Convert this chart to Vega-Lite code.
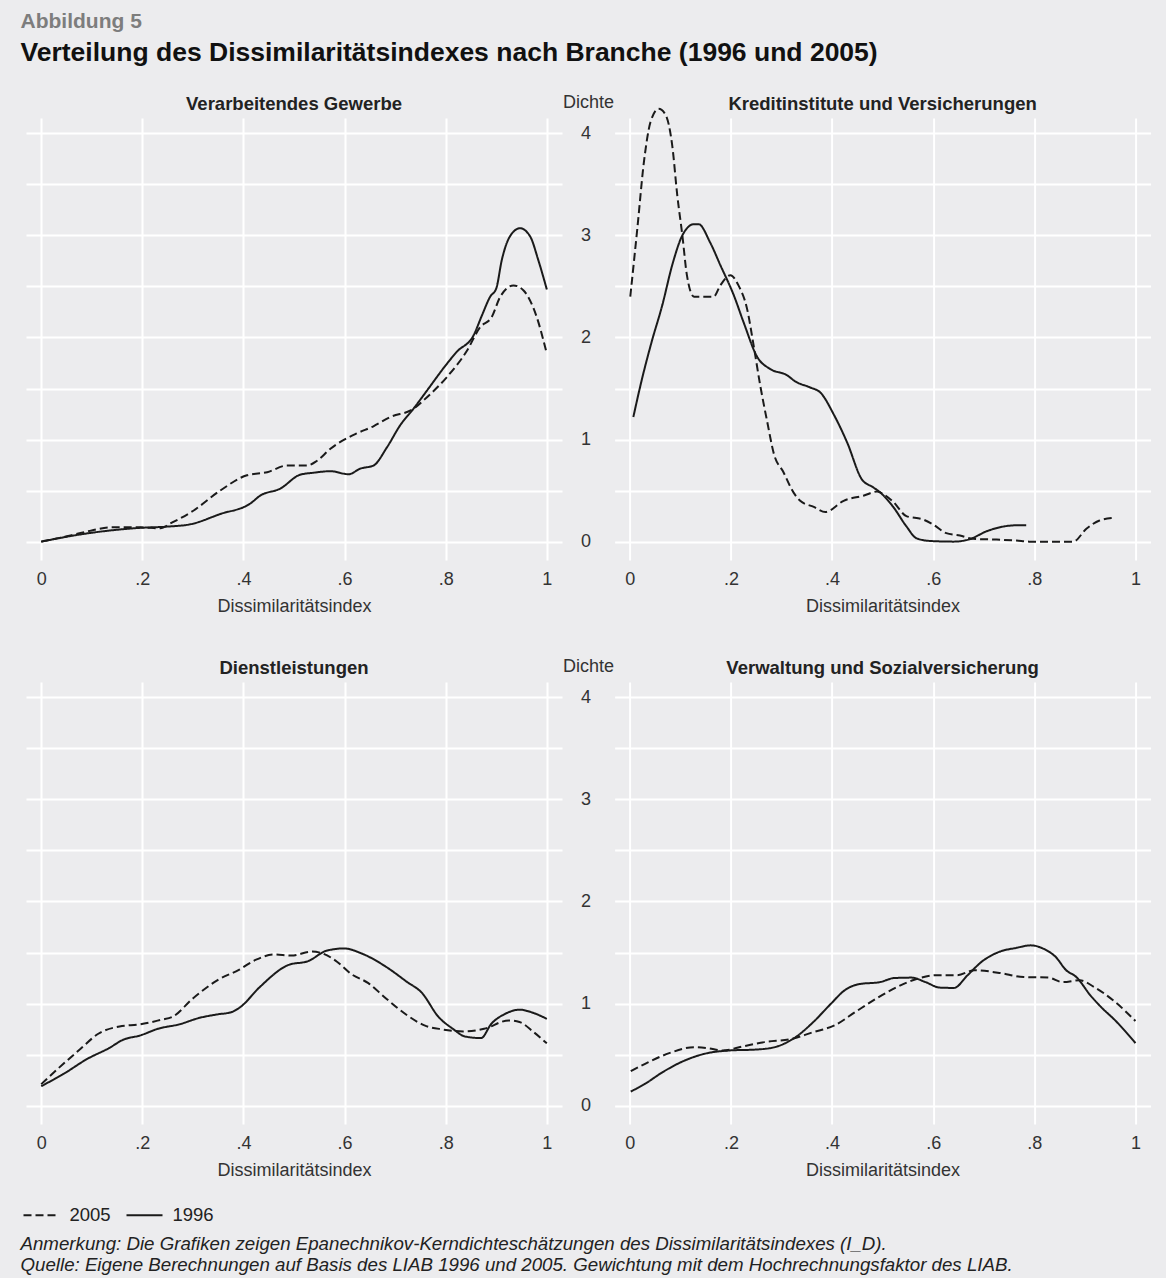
{
  "$schema": "https://vega.github.io/schema/vega-lite/v6.json",
  "background": "#ececee",
  "padding": {"left": 20, "top": 10, "right": 16, "bottom": 4.5},
  "title": {
    "text": "Abbildung 5",
    "subtitle": "Verteilung des Dissimilaritätsindexes nach Branche (1996 und 2005)",
    "anchor": "start",
    "frame": "group",
    "dx": -5.5,
    "font": "Liberation Sans",
    "fontSize": 21,
    "fontWeight": "bold",
    "color": "#7d7d7d",
    "subtitleFont": "Liberation Sans",
    "subtitleFontSize": 26.5,
    "subtitleFontWeight": "bold",
    "subtitleColor": "#111111",
    "subtitlePadding": 8,
    "offset": 27
  },
  "datasets": {
    "d": [
      {"p":"VG","j":"2005","x":0,"y":0},{"p":"VG","j":"2005","x":0.058,"y":0.06},{"p":"VG","j":"2005","x":0.1,"y":0.11},{"p":"VG","j":"2005","x":0.137,"y":0.14},{"p":"VG","j":"2005","x":0.196,"y":0.14},{"p":"VG","j":"2005","x":0.236,"y":0.13},{"p":"VG","j":"2005","x":0.255,"y":0.177},{"p":"VG","j":"2005","x":0.3,"y":0.3},{"p":"VG","j":"2005","x":0.354,"y":0.5},{"p":"VG","j":"2005","x":0.407,"y":0.65},{"p":"VG","j":"2005","x":0.447,"y":0.68},{"p":"VG","j":"2005","x":0.486,"y":0.745},{"p":"VG","j":"2005","x":0.525,"y":0.745},{"p":"VG","j":"2005","x":0.545,"y":0.79},{"p":"VG","j":"2005","x":0.572,"y":0.91},{"p":"VG","j":"2005","x":0.624,"y":1.06},{"p":"VG","j":"2005","x":0.657,"y":1.13},{"p":"VG","j":"2005","x":0.69,"y":1.22},{"p":"VG","j":"2005","x":0.736,"y":1.3},{"p":"VG","j":"2005","x":0.763,"y":1.415},{"p":"VG","j":"2005","x":0.802,"y":1.61},{"p":"VG","j":"2005","x":0.842,"y":1.87},{"p":"VG","j":"2005","x":0.868,"y":2.1},{"p":"VG","j":"2005","x":0.891,"y":2.2},{"p":"VG","j":"2005","x":0.908,"y":2.4},{"p":"VG","j":"2005","x":0.934,"y":2.51},{"p":"VG","j":"2005","x":0.954,"y":2.46},{"p":"VG","j":"2005","x":0.98,"y":2.2},{"p":"VG","j":"2005","x":1.0,"y":1.84},
      {"p":"VG","j":"1996","x":0,"y":0},{"p":"VG","j":"1996","x":0.09,"y":0.08},{"p":"VG","j":"1996","x":0.196,"y":0.135},{"p":"VG","j":"1996","x":0.249,"y":0.147},{"p":"VG","j":"1996","x":0.295,"y":0.17},{"p":"VG","j":"1996","x":0.354,"y":0.27},{"p":"VG","j":"1996","x":0.414,"y":0.375},{"p":"VG","j":"1996","x":0.433,"y":0.45},{"p":"VG","j":"1996","x":0.473,"y":0.52},{"p":"VG","j":"1996","x":0.512,"y":0.655},{"p":"VG","j":"1996","x":0.539,"y":0.675},{"p":"VG","j":"1996","x":0.572,"y":0.69},{"p":"VG","j":"1996","x":0.608,"y":0.66},{"p":"VG","j":"1996","x":0.631,"y":0.715},{"p":"VG","j":"1996","x":0.657,"y":0.745},{"p":"VG","j":"1996","x":0.684,"y":0.925},{"p":"VG","j":"1996","x":0.71,"y":1.14},{"p":"VG","j":"1996","x":0.736,"y":1.3},{"p":"VG","j":"1996","x":0.763,"y":1.48},{"p":"VG","j":"1996","x":0.802,"y":1.74},{"p":"VG","j":"1996","x":0.822,"y":1.86},{"p":"VG","j":"1996","x":0.855,"y":2.02},{"p":"VG","j":"1996","x":0.872,"y":2.22},{"p":"VG","j":"1996","x":0.888,"y":2.4},{"p":"VG","j":"1996","x":0.9,"y":2.48},{"p":"VG","j":"1996","x":0.911,"y":2.76},{"p":"VG","j":"1996","x":0.927,"y":2.99},{"p":"VG","j":"1996","x":0.947,"y":3.07},{"p":"VG","j":"1996","x":0.967,"y":2.99},{"p":"VG","j":"1996","x":0.983,"y":2.76},{"p":"VG","j":"1996","x":1.0,"y":2.47},
      {"p":"KV","j":"2005","x":0.001,"y":2.4},{"p":"KV","j":"2005","x":0.015,"y":3.07},{"p":"KV","j":"2005","x":0.028,"y":3.72},{"p":"KV","j":"2005","x":0.041,"y":4.11},{"p":"KV","j":"2005","x":0.057,"y":4.24},{"p":"KV","j":"2005","x":0.071,"y":4.18},{"p":"KV","j":"2005","x":0.084,"y":3.88},{"p":"KV","j":"2005","x":0.094,"y":3.39},{"p":"KV","j":"2005","x":0.104,"y":3.0},{"p":"KV","j":"2005","x":0.113,"y":2.61},{"p":"KV","j":"2005","x":0.127,"y":2.4},{"p":"KV","j":"2005","x":0.166,"y":2.4},{"p":"KV","j":"2005","x":0.179,"y":2.51},{"p":"KV","j":"2005","x":0.199,"y":2.61},{"p":"KV","j":"2005","x":0.215,"y":2.51},{"p":"KV","j":"2005","x":0.232,"y":2.28},{"p":"KV","j":"2005","x":0.245,"y":1.92},{"p":"KV","j":"2005","x":0.258,"y":1.53},{"p":"KV","j":"2005","x":0.272,"y":1.17},{"p":"KV","j":"2005","x":0.285,"y":0.86},{"p":"KV","j":"2005","x":0.304,"y":0.68},{"p":"KV","j":"2005","x":0.324,"y":0.48},{"p":"KV","j":"2005","x":0.337,"y":0.4},{"p":"KV","j":"2005","x":0.364,"y":0.34},{"p":"KV","j":"2005","x":0.387,"y":0.29},{"p":"KV","j":"2005","x":0.423,"y":0.4},{"p":"KV","j":"2005","x":0.462,"y":0.45},{"p":"KV","j":"2005","x":0.489,"y":0.49},{"p":"KV","j":"2005","x":0.503,"y":0.46},{"p":"KV","j":"2005","x":0.521,"y":0.39},{"p":"KV","j":"2005","x":0.547,"y":0.25},{"p":"KV","j":"2005","x":0.58,"y":0.217},{"p":"KV","j":"2005","x":0.6,"y":0.167},{"p":"KV","j":"2005","x":0.626,"y":0.083},{"p":"KV","j":"2005","x":0.653,"y":0.06},{"p":"KV","j":"2005","x":0.679,"y":0.027},{"p":"KV","j":"2005","x":0.725,"y":0.02},{"p":"KV","j":"2005","x":0.765,"y":0.01},{"p":"KV","j":"2005","x":0.79,"y":0},{"p":"KV","j":"2005","x":0.877,"y":0},{"p":"KV","j":"2005","x":0.903,"y":0.127},{"p":"KV","j":"2005","x":0.929,"y":0.207},{"p":"KV","j":"2005","x":0.956,"y":0.233},
      {"p":"KV","j":"1996","x":0.007,"y":1.22},{"p":"KV","j":"1996","x":0.024,"y":1.59},{"p":"KV","j":"1996","x":0.044,"y":1.97},{"p":"KV","j":"1996","x":0.064,"y":2.31},{"p":"KV","j":"1996","x":0.084,"y":2.71},{"p":"KV","j":"1996","x":0.104,"y":3.0},{"p":"KV","j":"1996","x":0.127,"y":3.11},{"p":"KV","j":"1996","x":0.136,"y":3.11},{"p":"KV","j":"1996","x":0.159,"y":2.93},{"p":"KV","j":"1996","x":0.179,"y":2.71},{"p":"KV","j":"1996","x":0.206,"y":2.41},{"p":"KV","j":"1996","x":0.225,"y":2.15},{"p":"KV","j":"1996","x":0.252,"y":1.81},{"p":"KV","j":"1996","x":0.278,"y":1.69},{"p":"KV","j":"1996","x":0.311,"y":1.63},{"p":"KV","j":"1996","x":0.327,"y":1.57},{"p":"KV","j":"1996","x":0.357,"y":1.51},{"p":"KV","j":"1996","x":0.377,"y":1.46},{"p":"KV","j":"1996","x":0.404,"y":1.24},{"p":"KV","j":"1996","x":0.43,"y":0.97},{"p":"KV","j":"1996","x":0.459,"y":0.61},{"p":"KV","j":"1996","x":0.482,"y":0.53},{"p":"KV","j":"1996","x":0.495,"y":0.483},{"p":"KV","j":"1996","x":0.521,"y":0.34},{"p":"KV","j":"1996","x":0.547,"y":0.15},{"p":"KV","j":"1996","x":0.567,"y":0.033},{"p":"KV","j":"1996","x":0.593,"y":0.007},{"p":"KV","j":"1996","x":0.64,"y":0},{"p":"KV","j":"1996","x":0.672,"y":0.023},{"p":"KV","j":"1996","x":0.705,"y":0.1},{"p":"KV","j":"1996","x":0.738,"y":0.147},{"p":"KV","j":"1996","x":0.765,"y":0.16},{"p":"KV","j":"1996","x":0.784,"y":0.16},
      {"p":"DL","j":"2005","x":0,"y":0.21},{"p":"DL","j":"2005","x":0.044,"y":0.41},{"p":"DL","j":"2005","x":0.078,"y":0.557},{"p":"DL","j":"2005","x":0.113,"y":0.704},{"p":"DL","j":"2005","x":0.155,"y":0.776},{"p":"DL","j":"2005","x":0.196,"y":0.796},{"p":"DL","j":"2005","x":0.238,"y":0.842},{"p":"DL","j":"2005","x":0.259,"y":0.868},{"p":"DL","j":"2005","x":0.3,"y":1.05},{"p":"DL","j":"2005","x":0.349,"y":1.23},{"p":"DL","j":"2005","x":0.391,"y":1.33},{"p":"DL","j":"2005","x":0.425,"y":1.43},{"p":"DL","j":"2005","x":0.46,"y":1.48},{"p":"DL","j":"2005","x":0.495,"y":1.47},{"p":"DL","j":"2005","x":0.536,"y":1.51},{"p":"DL","j":"2005","x":0.557,"y":1.49},{"p":"DL","j":"2005","x":0.585,"y":1.41},{"p":"DL","j":"2005","x":0.613,"y":1.29},{"p":"DL","j":"2005","x":0.647,"y":1.2},{"p":"DL","j":"2005","x":0.682,"y":1.05},{"p":"DL","j":"2005","x":0.724,"y":0.884},{"p":"DL","j":"2005","x":0.758,"y":0.786},{"p":"DL","j":"2005","x":0.793,"y":0.747},{"p":"DL","j":"2005","x":0.835,"y":0.727},{"p":"DL","j":"2005","x":0.876,"y":0.753},{"p":"DL","j":"2005","x":0.925,"y":0.835},{"p":"DL","j":"2005","x":0.946,"y":0.819},{"p":"DL","j":"2005","x":0.974,"y":0.72},{"p":"DL","j":"2005","x":1.0,"y":0.61},
      {"p":"DL","j":"1996","x":0,"y":0.19},{"p":"DL","j":"1996","x":0.044,"y":0.31},{"p":"DL","j":"1996","x":0.092,"y":0.46},{"p":"DL","j":"1996","x":0.134,"y":0.563},{"p":"DL","j":"1996","x":0.162,"y":0.645},{"p":"DL","j":"1996","x":0.196,"y":0.688},{"p":"DL","j":"1996","x":0.231,"y":0.753},{"p":"DL","j":"1996","x":0.273,"y":0.796},{"p":"DL","j":"1996","x":0.314,"y":0.861},{"p":"DL","j":"1996","x":0.349,"y":0.894},{"p":"DL","j":"1996","x":0.377,"y":0.917},{"p":"DL","j":"1996","x":0.394,"y":0.966},{"p":"DL","j":"1996","x":0.432,"y":1.16},{"p":"DL","j":"1996","x":0.488,"y":1.376},{"p":"DL","j":"1996","x":0.529,"y":1.418},{"p":"DL","j":"1996","x":0.564,"y":1.517},{"p":"DL","j":"1996","x":0.599,"y":1.54},{"p":"DL","j":"1996","x":0.634,"y":1.49},{"p":"DL","j":"1996","x":0.682,"y":1.36},{"p":"DL","j":"1996","x":0.724,"y":1.21},{"p":"DL","j":"1996","x":0.752,"y":1.11},{"p":"DL","j":"1996","x":0.786,"y":0.868},{"p":"DL","j":"1996","x":0.814,"y":0.753},{"p":"DL","j":"1996","x":0.838,"y":0.678},{"p":"DL","j":"1996","x":0.87,"y":0.662},{"p":"DL","j":"1996","x":0.89,"y":0.8},{"p":"DL","j":"1996","x":0.918,"y":0.9},{"p":"DL","j":"1996","x":0.946,"y":0.94},{"p":"DL","j":"1996","x":0.974,"y":0.907},{"p":"DL","j":"1996","x":1.0,"y":0.85},
      {"p":"VS","j":"2005","x":0.002,"y":0.337},{"p":"VS","j":"2005","x":0.037,"y":0.426},{"p":"VS","j":"2005","x":0.078,"y":0.514},{"p":"VS","j":"2005","x":0.127,"y":0.573},{"p":"VS","j":"2005","x":0.155,"y":0.563},{"p":"VS","j":"2005","x":0.183,"y":0.54},{"p":"VS","j":"2005","x":0.224,"y":0.58},{"p":"VS","j":"2005","x":0.266,"y":0.622},{"p":"VS","j":"2005","x":0.321,"y":0.655},{"p":"VS","j":"2005","x":0.363,"y":0.72},{"p":"VS","j":"2005","x":0.405,"y":0.786},{"p":"VS","j":"2005","x":0.446,"y":0.917},{"p":"VS","j":"2005","x":0.488,"y":1.05},{"p":"VS","j":"2005","x":0.529,"y":1.163},{"p":"VS","j":"2005","x":0.564,"y":1.235},{"p":"VS","j":"2005","x":0.606,"y":1.277},{"p":"VS","j":"2005","x":0.647,"y":1.277},{"p":"VS","j":"2005","x":0.682,"y":1.327},{"p":"VS","j":"2005","x":0.731,"y":1.3},{"p":"VS","j":"2005","x":0.779,"y":1.26},{"p":"VS","j":"2005","x":0.828,"y":1.254},{"p":"VS","j":"2005","x":0.856,"y":1.21},{"p":"VS","j":"2005","x":0.89,"y":1.228},{"p":"VS","j":"2005","x":0.918,"y":1.163},{"p":"VS","j":"2005","x":0.96,"y":1.015},{"p":"VS","j":"2005","x":1.0,"y":0.829},
      {"p":"VS","j":"1996","x":0.002,"y":0.138},{"p":"VS","j":"1996","x":0.03,"y":0.213},{"p":"VS","j":"1996","x":0.065,"y":0.328},{"p":"VS","j":"1996","x":0.106,"y":0.436},{"p":"VS","j":"1996","x":0.148,"y":0.508},{"p":"VS","j":"1996","x":0.196,"y":0.54},{"p":"VS","j":"1996","x":0.252,"y":0.55},{"p":"VS","j":"1996","x":0.287,"y":0.573},{"p":"VS","j":"1996","x":0.328,"y":0.671},{"p":"VS","j":"1996","x":0.363,"y":0.819},{"p":"VS","j":"1996","x":0.398,"y":0.999},{"p":"VS","j":"1996","x":0.425,"y":1.13},{"p":"VS","j":"1996","x":0.453,"y":1.19},{"p":"VS","j":"1996","x":0.495,"y":1.21},{"p":"VS","j":"1996","x":0.523,"y":1.25},{"p":"VS","j":"1996","x":0.557,"y":1.254},{"p":"VS","j":"1996","x":0.585,"y":1.21},{"p":"VS","j":"1996","x":0.613,"y":1.156},{"p":"VS","j":"1996","x":0.641,"y":1.153},{"p":"VS","j":"1996","x":0.668,"y":1.277},{"p":"VS","j":"1996","x":0.696,"y":1.41},{"p":"VS","j":"1996","x":0.731,"y":1.507},{"p":"VS","j":"1996","x":0.765,"y":1.546},{"p":"VS","j":"1996","x":0.793,"y":1.57},{"p":"VS","j":"1996","x":0.821,"y":1.53},{"p":"VS","j":"1996","x":0.842,"y":1.458},{"p":"VS","j":"1996","x":0.863,"y":1.327},{"p":"VS","j":"1996","x":0.883,"y":1.26},{"p":"VS","j":"1996","x":0.911,"y":1.08},{"p":"VS","j":"1996","x":0.932,"y":0.966},{"p":"VS","j":"1996","x":0.96,"y":0.835},{"p":"VS","j":"1996","x":1.0,"y":0.613}
    ]
  },
  "concat": [
    {
      "data": {"name": "d"},
      "transform": [{"filter": "datum.p === 'VG'"}],
      "title": {"text": "Verarbeitendes Gewerbe", "offset": 5},
      "width": 536, "height": 442,
      "mark": {"type": "line", "interpolate": "monotone"},
      "encoding": {
        "x": {"field": "x", "type": "quantitative", "scale": {"domain": [-0.03, 1.03], "nice": false, "zero": false},
              "axis": {"values": [0, 0.2, 0.4, 0.6, 0.8, 1], "labelExpr": "datum.value == 0 ? '0' : datum.value == 1 ? '1' : replace(format(datum.value, '.1f'), '0.', '.')", "title": "Dissimilaritätsindex"}},
        "y": {"field": "y", "type": "quantitative", "scale": {"domain": [-0.18, 4.15], "nice": false, "zero": false},
              "axis": {"values": [0, 0.5, 1, 1.5, 2, 2.5, 3, 3.5, 4], "labels": false, "title": null}},
        "strokeDash": {"field": "j", "type": "nominal", "scale": {"domain": ["2005", "1996"], "range": [[8, 4], [1, 0]]}, "legend": {"title": null}}
      }
    },
    {
      "data": {"name": "d"},
      "transform": [{"filter": "datum.p === 'KV'"}],
      "title": {"text": "Kreditinstitute und Versicherungen", "offset": -20},
      "width": 536, "height": 442,
      "mark": {"type": "line", "interpolate": "monotone"},
      "encoding": {
        "x": {"field": "x", "type": "quantitative", "scale": {"domain": [-0.03, 1.03], "nice": false, "zero": false},
              "axis": {"values": [0, 0.2, 0.4, 0.6, 0.8, 1], "labelExpr": "datum.value == 0 ? '0' : datum.value == 1 ? '1' : replace(format(datum.value, '.1f'), '0.', '.')", "title": "Dissimilaritätsindex"}},
        "y": {"field": "y", "type": "quantitative", "scale": {"domain": [-0.18, 4.15], "nice": false, "zero": false},
              "axis": {"values": [0, 0.5, 1, 1.5, 2, 2.5, 3, 3.5, 4], "labelExpr": "datum.value % 1 === 0 ? format(datum.value, 'd') : ''", "labelPadding": 24, "title": "Dichte", "titleAngle": 0, "titleAlign": "right", "titleBaseline": "alphabetic", "titleX": -1, "titleY": -11}},
        "strokeDash": {"field": "j", "type": "nominal", "scale": {"domain": ["2005", "1996"], "range": [[8, 4], [1, 0]]}, "legend": {"title": null}}
      }
    },
    {
      "data": {"name": "d"},
      "transform": [{"filter": "datum.p === 'DL'"}],
      "title": {"text": "Dienstleistungen", "offset": 5},
      "width": 536, "height": 442,
      "mark": {"type": "line", "interpolate": "monotone"},
      "encoding": {
        "x": {"field": "x", "type": "quantitative", "scale": {"domain": [-0.03, 1.03], "nice": false, "zero": false},
              "axis": {"values": [0, 0.2, 0.4, 0.6, 0.8, 1], "labelExpr": "datum.value == 0 ? '0' : datum.value == 1 ? '1' : replace(format(datum.value, '.1f'), '0.', '.')", "title": "Dissimilaritätsindex"}},
        "y": {"field": "y", "type": "quantitative", "scale": {"domain": [-0.18, 4.15], "nice": false, "zero": false},
              "axis": {"values": [0, 0.5, 1, 1.5, 2, 2.5, 3, 3.5, 4], "labels": false, "title": null}},
        "strokeDash": {"field": "j", "type": "nominal", "scale": {"domain": ["2005", "1996"], "range": [[8, 4], [1, 0]]}, "legend": {"title": null}}
      }
    },
    {
      "data": {"name": "d"},
      "transform": [{"filter": "datum.p === 'VS'"}],
      "title": {"text": "Verwaltung und Sozialversicherung", "offset": -20},
      "width": 536, "height": 442,
      "mark": {"type": "line", "interpolate": "monotone"},
      "encoding": {
        "x": {"field": "x", "type": "quantitative", "scale": {"domain": [-0.03, 1.03], "nice": false, "zero": false},
              "axis": {"values": [0, 0.2, 0.4, 0.6, 0.8, 1], "labelExpr": "datum.value == 0 ? '0' : datum.value == 1 ? '1' : replace(format(datum.value, '.1f'), '0.', '.')", "title": "Dissimilaritätsindex"}},
        "y": {"field": "y", "type": "quantitative", "scale": {"domain": [-0.18, 4.15], "nice": false, "zero": false},
              "axis": {"values": [0, 0.5, 1, 1.5, 2, 2.5, 3, 3.5, 4], "labelExpr": "datum.value % 1 === 0 ? format(datum.value, 'd') : ''", "labelPadding": 24, "title": "Dichte", "titleAngle": 0, "titleAlign": "right", "titleBaseline": "alphabetic", "titleX": -1, "titleY": -11}},
        "strokeDash": {"field": "j", "type": "nominal", "scale": {"domain": ["2005", "1996"], "range": [[8, 4], [1, 0]]}, "legend": {"title": null}}
      }
    },
    {
      "data": {"values": [
        {"line": 1, "text": "Anmerkung: Die Grafiken zeigen Epanechnikov-Kerndichteschätzungen des Dissimilaritätsindexes (I_D)."},
        {"line": 2, "text": "Quelle: Eigene Berechnungen auf Basis des LIAB 1996 und 2005. Gewichtung mit dem Hochrechnungsfaktor des LIAB."}
      ]},
      "width": 536, "height": 42,
      "mark": {"type": "text", "align": "left", "baseline": "middle", "font": "Liberation Sans", "fontStyle": "italic", "fontSize": 18.7, "color": "#222222", "dx": -5.5, "dy": -13},
      "encoding": {
        "x": {"value": 0},
        "y": {"field": "line", "type": "ordinal", "axis": null},
        "text": {"field": "text", "type": "nominal"}
      }
    }
  ],
  "columns": 2,
  "spacing": {"row": 122, "column": 52.6},
  "bounds": "flush",
  "align": "each",
  "config": {
    "view": {"stroke": null},
    "font": "Liberation Sans",
    "line": {"color": "#1a1a1a", "strokeWidth": 2},
    "title": {"font": "Liberation Sans", "fontSize": 18.5, "fontWeight": "bold", "color": "#222222", "anchor": "middle", "frame": "group"},
    "axis": {"domain": false, "ticks": false, "grid": true, "gridColor": "#ffffff", "gridWidth": 2, "labelFont": "Liberation Sans", "labelFontSize": 18, "labelColor": "#333333", "titleFont": "Liberation Sans", "titleFontSize": 18, "titleFontWeight": "normal", "titleColor": "#333333"},
    "axisX": {"labelPadding": 10, "titlePadding": 9},
    "legend": {"orient": "none", "legendX": -3.5, "legendY": 1078, "direction": "horizontal", "symbolType": "stroke", "symbolSize": 1296, "symbolStrokeWidth": 2, "symbolStrokeColor": "#1a1a1a", "labelFont": "Liberation Sans", "labelFontSize": 18.5, "labelColor": "#222222", "labelOffset": 9, "columnPadding": 11, "padding": 0}
  }
}
